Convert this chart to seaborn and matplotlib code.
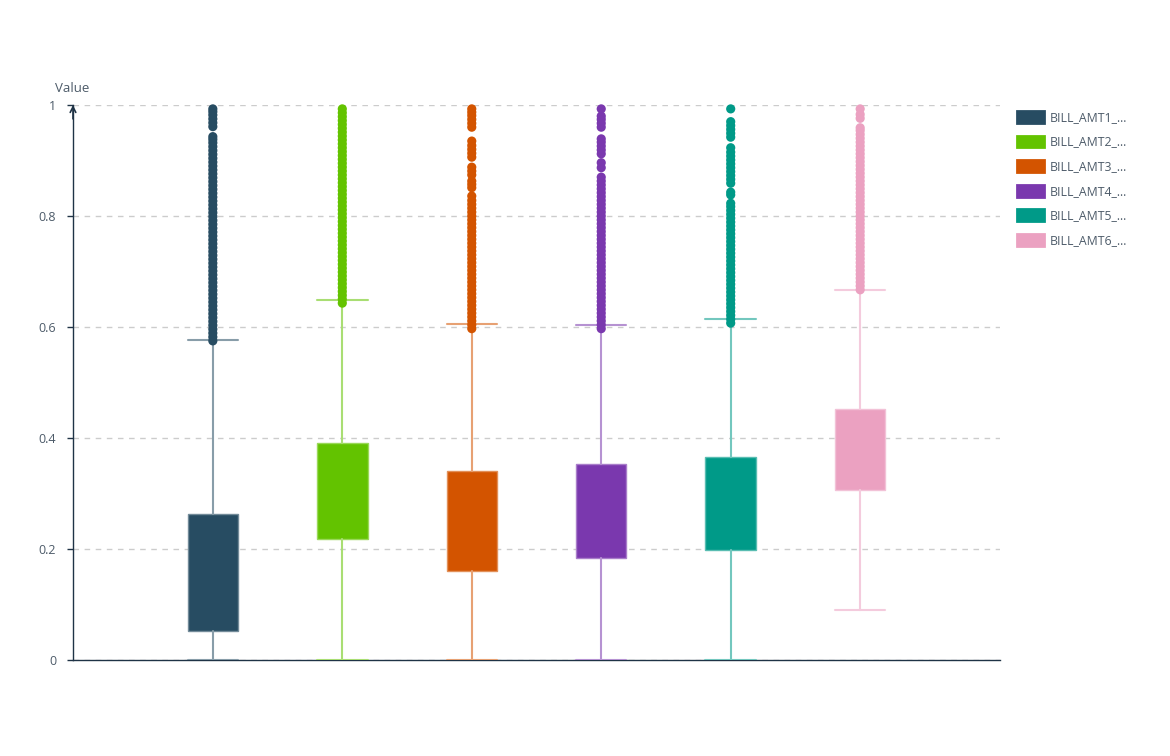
import matplotlib
matplotlib.use("Agg")
import matplotlib.pyplot as plt
from matplotlib.patches import Patch
from matplotlib.colors import to_rgb
import seaborn as sns
import pandas as pd

# ---------------- data ----------------
categories = ["BILL_AMT1_...", "BILL_AMT2_...", "BILL_AMT3_...",
              "BILL_AMT4_...", "BILL_AMT5_...", "BILL_AMT6_..."]
colors = ["#274c62", "#63c300", "#d35400", "#7a38ae", "#009a88", "#eba1c1"]

q1_vals = [0.052, 0.218, 0.160, 0.184, 0.198, 0.306]
q3_vals = [0.263, 0.391, 0.341, 0.353, 0.366, 0.452]
whisker_low = [0.000, 0.000, 0.000, 0.000, 0.000, 0.090]
whisker_high = [0.577, 0.649, 0.605, 0.604, 0.614, 0.667]

outliers_1 = [0.575, 0.582, 0.589, 0.596, 0.603, 0.610, 0.617, 0.624, 0.631, 0.638,
              0.645, 0.652, 0.659, 0.666, 0.673, 0.680, 0.687, 0.694, 0.701, 0.708,
              0.715, 0.722, 0.729, 0.736, 0.743, 0.750, 0.757, 0.764, 0.771, 0.778,
              0.785, 0.792, 0.799, 0.806, 0.813, 0.820, 0.827, 0.834, 0.841, 0.848,
              0.855, 0.862, 0.869, 0.876, 0.883, 0.890, 0.897, 0.904, 0.911, 0.918,
              0.925, 0.932, 0.938, 0.943,
              0.961, 0.968, 0.975, 0.982, 0.988, 0.993]
outliers_2 = [0.643, 0.650, 0.657, 0.664, 0.671, 0.678, 0.685, 0.692, 0.699, 0.706,
              0.713, 0.720, 0.727, 0.734, 0.741, 0.748, 0.755, 0.762, 0.769, 0.776,
              0.783, 0.790, 0.797, 0.804, 0.811, 0.818, 0.825, 0.832, 0.839, 0.846,
              0.853, 0.860, 0.867, 0.874, 0.881, 0.888, 0.895, 0.902, 0.909, 0.916,
              0.923, 0.930, 0.937, 0.944, 0.951, 0.958, 0.965, 0.972, 0.979, 0.986,
              0.993]
outliers_3 = [0.597, 0.604, 0.611, 0.618, 0.625, 0.632, 0.639, 0.646, 0.653, 0.660,
              0.667, 0.674, 0.681, 0.688, 0.695, 0.702, 0.709, 0.716, 0.723, 0.730,
              0.737, 0.744, 0.751, 0.758, 0.765, 0.772, 0.779, 0.786, 0.793, 0.800,
              0.807, 0.814, 0.821, 0.828, 0.836,
              0.851, 0.857, 0.863,
              0.874, 0.881, 0.888,
              0.906, 0.913, 0.920, 0.927, 0.935,
              0.960, 0.967, 0.974, 0.981, 0.987, 0.993]
outliers_4 = [0.597, 0.604, 0.611, 0.618, 0.625, 0.632, 0.639, 0.646, 0.653, 0.660,
              0.667, 0.674, 0.681, 0.688, 0.695, 0.702, 0.709, 0.716, 0.723, 0.730,
              0.737, 0.744, 0.751, 0.758, 0.765, 0.772, 0.779, 0.786, 0.793, 0.800,
              0.807, 0.814, 0.821, 0.828, 0.835, 0.842, 0.849, 0.856, 0.863, 0.870,
              0.887, 0.896,
              0.912, 0.919, 0.926, 0.933, 0.939,
              0.960, 0.967, 0.974, 0.980,
              0.993]
outliers_5 = [0.607, 0.614, 0.621, 0.628, 0.635, 0.642, 0.649, 0.656, 0.663, 0.670,
              0.677, 0.684, 0.691, 0.698, 0.705, 0.712, 0.719, 0.726, 0.733, 0.740,
              0.747, 0.754, 0.761, 0.768, 0.775, 0.782, 0.789, 0.796, 0.803, 0.810,
              0.817, 0.823,
              0.838, 0.843,
              0.859, 0.866, 0.873, 0.880, 0.887, 0.894, 0.901, 0.908, 0.915, 0.923,
              0.942, 0.949, 0.956, 0.963, 0.970,
              0.993]
outliers_6 = [0.667, 0.674, 0.681, 0.688, 0.695, 0.702, 0.709, 0.716, 0.723, 0.730,
              0.737, 0.744, 0.751, 0.758, 0.765, 0.772, 0.779, 0.786, 0.793, 0.800,
              0.807, 0.814, 0.821, 0.828, 0.835, 0.842, 0.849, 0.856, 0.863, 0.870,
              0.877, 0.884, 0.891, 0.898, 0.905, 0.912, 0.919, 0.926, 0.933, 0.940,
              0.947, 0.954, 0.959,
              0.976, 0.983, 0.993]
outlier_lists = [outliers_1, outliers_2, outliers_3, outliers_4, outliers_5, outliers_6]

y_ticks = [0, 0.2, 0.4, 0.6, 0.8, 1]
y_tick_labels = ["0", "0.2", "0.4", "0.6", "0.8", "1"]
y_title = "Value"

# ---------------- style ----------------
sns.set_theme(style="white")
plt.rcParams["font.family"] = ["Open Sans", "DejaVu Sans"]

axis_color = "#1f3346"
text_color = "#4d5b69"


def tint(c, f):
    r, g, b = to_rgb(c)
    return (r + (1 - r) * f, g + (1 - g) * f, b + (1 - b) * f)


fig = plt.figure(figsize=(11.7, 7.56), dpi=100)
ax = fig.add_axes([73 / 1170, 1 - 660 / 756, (1000 - 73) / 1170, (660 - 105) / 756])

# outliers with seaborn
rows = []
for cat, vals in zip(categories, outlier_lists):
    for v in vals:
        rows.append({"series": cat, "value": v})
df_out = pd.DataFrame(rows)
sns.stripplot(data=df_out, x="series", y="value", hue="series", order=categories,
              hue_order=categories, palette=colors, jitter=False, size=6.6,
              linewidth=0, legend=False, ax=ax, zorder=4, clip_on=False)

# boxes from summary stats
for i, cat in enumerate(categories):
    stats = [{
        "med": q1_vals[i], "q1": q1_vals[i], "q3": q3_vals[i],
        "whislo": whisker_low[i], "whishi": whisker_high[i], "fliers": [],
    }]
    light = tint(colors[i], 0.45)
    ax.bxp(stats, positions=[i], widths=0.39, capwidths=0.39, patch_artist=True,
           showfliers=False, manage_ticks=False,
           boxprops=dict(facecolor=colors[i], edgecolor=tint(colors[i], 0.35), linewidth=1.0),
           whiskerprops=dict(color=light, linewidth=1.5),
           capprops=dict(color=light, linewidth=1.5),
           medianprops=dict(visible=False), zorder=3)

ax.set_xlim(-1.08, 5 + 1.08)
ax.set_ylim(0, 1)

ax.set_yticks(y_ticks)
ax.set_yticklabels(y_tick_labels)
ax.set_xticks([])
ax.set_xlabel("")
ax.set_ylabel("")
ax.tick_params(axis="y", left=True, length=4, width=1, color=axis_color,
               labelsize=9, labelcolor=text_color, pad=8)

ax.yaxis.grid(True, linestyle=(0, (4, 4)), color="#cccccc", linewidth=1)
ax.set_axisbelow(True)

for s in ["top", "right"]:
    ax.spines[s].set_visible(False)
for s in ["left", "bottom"]:
    ax.spines[s].set_color(axis_color)
    ax.spines[s].set_linewidth(1.0)

ax.annotate("", xy=(0, 1.0), xytext=(0, 0.975), xycoords="axes fraction",
            arrowprops=dict(arrowstyle="->", color=axis_color, lw=1.2,
                            mutation_scale=10, shrinkA=0, shrinkB=0))

fig.text(55 / 1170, 1 - 89 / 756, y_title, fontsize=9.5, color=text_color,
         ha="left", va="center")

handles = [Patch(facecolor=c, edgecolor=c, label=l, joinstyle="round", linewidth=2)
           for c, l in zip(colors, categories)]
leg = fig.legend(handles=handles, loc="upper left",
                 bbox_to_anchor=(1012 / 1170, 1 - 106 / 756), frameon=False,
                 fontsize=8.8, handlelength=2.2, handleheight=1.1,
                 labelspacing=0.95, handletextpad=0.5, borderaxespad=0)
for t in leg.get_texts():
    t.set_color(text_color)

fig.savefig("out.png", dpi=100, facecolor="white")
